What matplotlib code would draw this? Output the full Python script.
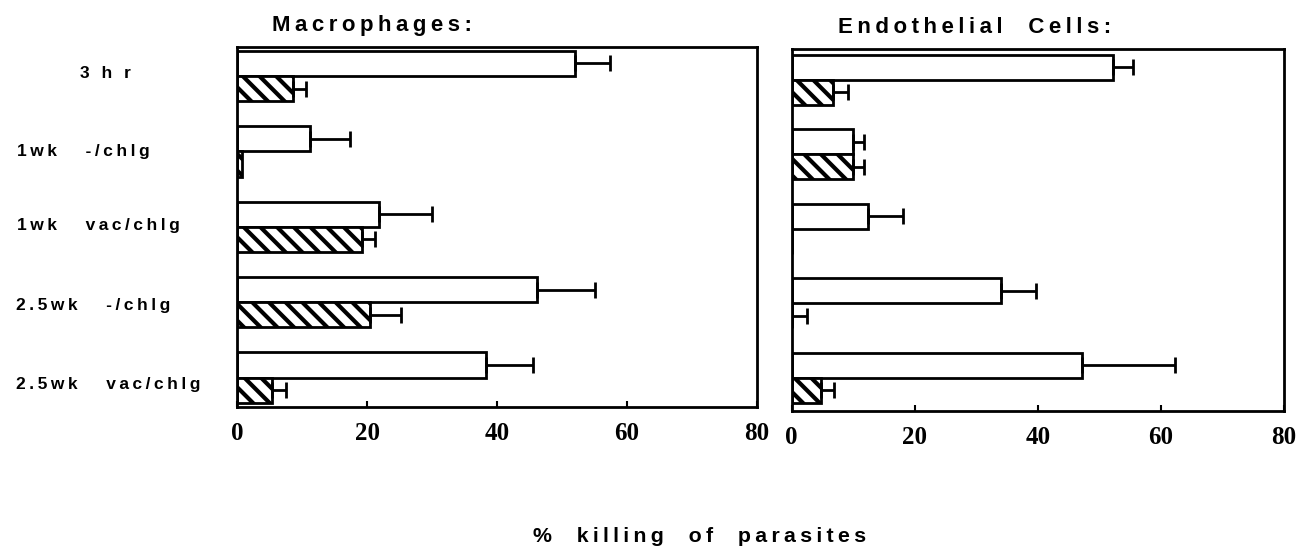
import numpy as np
import matplotlib
matplotlib.use("Agg")
import matplotlib.pyplot as plt
from matplotlib.transforms import blended_transform_factory

# ---- data ----
groups = ["3 h r", "1wk   -/chlg", "1wk   vac/chlg", "2.5wk   -/chlg", "2.5wk   vac/chlg"]
mac_open = [52.0, 11.2, 21.8, 46.2, 38.3]
mac_open_err = [5.4, 6.1, 8.1, 8.9, 7.2]
mac_hatch = [8.5, 0.8, 19.2, 20.4, 5.4]
mac_hatch_err = [2.1, 0.0, 2.0, 4.8, 2.1]
endo_open = [52.2, 9.9, 12.4, 34.0, 47.2]
endo_open_err = [3.2, 1.8, 5.7, 5.7, 15.1]
endo_hatch = [6.7, 9.9, 0.0, 0.0, 4.7]
endo_hatch_err = [2.5, 1.8, 0.0, 2.5, 2.1]
xticks = [0, 20, 40, 60, 80]
titles = ["Macrophages:", "Endothelial  Cells:"]
xlabel = "%  killing  of  parasites"

TS = "\u2009"


def track(s):
    return TS.join(s)


plt.rcParams["hatch.linewidth"] = 3.0
plt.rcParams["hatch.color"] = "black"

fig = plt.figure(figsize=(13.1, 5.54), dpi=100)
W, H = 1310, 554

ax1 = fig.add_axes([237.3 / W, 1 - 407 / H, (757 - 237.3) / W, (407 - 46.7) / H])
ax2 = fig.add_axes([791.7 / W, 1 - 410.7 / H, (1284 - 791.7) / W, (410.7 - 49.3) / H])

sans = ["Liberation Sans", "DejaVu Sans"]
serif = ["Liberation Serif", "DejaVu Serif"]

y = np.arange(len(groups))
h = 0.335


def draw(ax, ov, oe, hv, he, ylim):
    ax.barh(y - h / 2, ov, height=h, color="white", edgecolor="black", linewidth=2)
    ax.barh(y + h / 2, hv, height=h, color="white", edgecolor="black", linewidth=2,
            hatch="\\\\")
    for vals, errs, off in ((ov, oe, -h / 2), (hv, he, h / 2)):
        v = np.array(vals)
        e = np.array(errs)
        m = e > 0
        ax.errorbar(v[m], (y + off)[m], xerr=[np.zeros(m.sum()), e[m]], fmt="none",
                    ecolor="black", elinewidth=2, capsize=6, capthick=2)
    ax.set_xlim(0, 80)
    ax.set_ylim(*ylim)
    ax.set_xticks(xticks)
    ax.set_xticklabels([str(t) for t in xticks], family=serif, fontweight="bold", fontsize=18)
    ax.set_yticks([])
    ax.tick_params(axis="x", direction="in", length=4, width=1.5, pad=11)
    for s in ax.spines.values():
        s.set_linewidth(2)


draw(ax1, mac_open, mac_open_err, mac_hatch, mac_hatch_err, (4.39, -0.39))
draw(ax2, endo_open, endo_open_err, endo_hatch, endo_hatch_err, (4.44, -0.41))

# titles
fig.text(271.7 / W, 1 - 31 / H, track(titles[0]), family=sans, fontweight="bold",
         fontsize=16, ha="left", va="baseline")
fig.text(838 / W, 1 - 33 / H, track(titles[1]), family=sans, fontweight="bold",
         fontsize=16, ha="left", va="baseline")

# group labels
tr = blended_transform_factory(fig.transFigure, ax1.transData)
label_x = [105 / W, 17 / W, 17 / W, 16 / W, 16 / W]
label_ha = ["center", "left", "left", "left", "left"]
label_dy = [-0.04, 0.0, -0.02, 0.05, 0.09]
for i, g in enumerate(groups):
    fig.text(label_x[i], y[i] + label_dy[i], track(g), transform=tr, family=sans,
             fontweight="bold", fontsize=12.5, ha=label_ha[i], va="center")

fig.text(700 / W, 1 - 542 / H, track(xlabel), family=sans, fontweight="bold",
         fontsize=15.4, ha="center", va="baseline")

fig.savefig("out.png", dpi=100)
